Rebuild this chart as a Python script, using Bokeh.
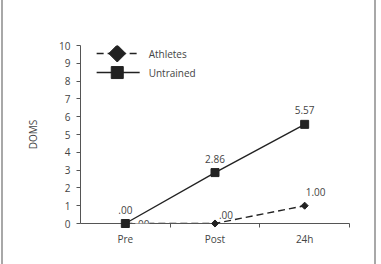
from bokeh.plotting import figure
from bokeh.models import Range1d, FixedTicker, ColumnDataSource, LabelSet
from bokeh.core.properties import value
from bokeh.embed import file_html
from bokeh.resources import INLINE

# ---- data ----
categories = ["Pre", "Post", "24h"]
athletes = [0.00, 0.00, 1.00]
untrained = [0.00, 2.86, 5.57]
y_ticks = list(range(0, 11))
series_names = ["Athletes", "Untrained"]

FONT = "Open Sans"
TXT = "#444444"
LINE = "#222222"

def fmt(v):
    s = f"{v:.2f}"
    return s[1:] if s.startswith("0") else s

xs = [i + 0.5 for i in range(len(categories))]

p = figure(width=375, height=264, output_backend="svg", toolbar_location=None,
           x_range=Range1d(0, len(categories)), y_range=Range1d(0, 10),
           min_border_left=77, min_border_right=29, min_border_top=45, min_border_bottom=41)
p.styles = {"margin-left": "1px",
            "border-left": "2px solid #a8a8a8",
            "border-right": "2px solid #a8a8a8"}
p.outline_line_color = None
p.xgrid.visible = False
p.ygrid.visible = False
p.background_fill_color = "white"
p.border_fill_color = "white"

# x axis
xa = p.xaxis[0]
xa.ticker = FixedTicker(ticks=xs, minor_ticks=[i + 1 for i in range(len(categories))])
xa.major_label_overrides = {x: c for x, c in zip(xs, categories)}
xa.major_tick_out = 0
xa.major_tick_in = 0
xa.minor_tick_out = 4
xa.minor_tick_in = 0
xa.major_label_standoff = 4
# y axis
ya = p.yaxis[0]
ya.ticker = FixedTicker(ticks=y_ticks, minor_ticks=[])
ya.major_tick_out = 4
ya.major_tick_in = 0
ya.minor_tick_out = 0
ya.minor_tick_in = 0
ya.major_label_standoff = 6
ya.axis_label = "DOMS"
ya.axis_label_standoff = 16
for ax in (xa, ya):
    ax.axis_line_color = "#555555"
    ax.major_tick_line_color = "#555555"
    ax.minor_tick_line_color = "#555555"
    ax.major_label_text_font = FONT
    ax.major_label_text_font_size = "10px"
    ax.major_label_text_color = TXT
    ax.axis_label_text_font = FONT
    ax.axis_label_text_font_size = "10px"
    ax.axis_label_text_font_style = "normal"
    ax.axis_label_text_color = TXT

# series
src_a = ColumnDataSource(dict(x=xs, y=athletes, lab=[fmt(v) for v in athletes],
                              dx=[17, 11, 11], dy=[0, 9, 14]))
src_u = ColumnDataSource(dict(x=xs, y=untrained, lab=[fmt(v) for v in untrained]))

p.line("x", "y", source=src_a, line_color=LINE, line_width=1.4, line_dash="7 4")
r = p.scatter("x", "y", source=src_a, marker="square", angle=0.7854, size=5,
              fill_color=LINE, line_color=LINE)
r.level = "overlay"
r = p.line("x", "y", source=src_u, line_color=LINE, line_width=1.4)
r.level = "overlay"
r = p.scatter("x", "y", source=src_u, marker="square", size=8,
              fill_color=LINE, line_color=LINE)
r.level = "overlay"

p.add_layout(LabelSet(x="x", y="y", text="lab", source=src_a, x_offset="dx", y_offset="dy",
                      text_align="center", text_baseline="middle",
                      text_font=value(FONT), text_font_size=value("10px"),
                      text_color=value(TXT), background_fill_color=value("white")))
r = p.text("x", "y", text="lab", source=src_u, y_offset=-14,
           text_align="center", text_baseline="middle",
           text_font=value(FONT), text_font_size="10px", text_color=TXT)
r.level = "overlay"

# manual legend (layout positions)
leg_y = [9.55, 8.48]
leg_x0, leg_xm, leg_x1, leg_xt = 0.18, 0.41, 0.66, 0.76
p.line([leg_x0, leg_x1], [leg_y[0]] * 2, line_color=LINE, line_width=1.4, line_dash="7 4")
p.scatter([leg_xm], [leg_y[0]], marker="square", angle=0.7854, size=12,
          fill_color=LINE, line_color=LINE)
p.line([leg_x0, leg_x1], [leg_y[1]] * 2, line_color=LINE, line_width=1.4)
p.scatter([leg_xm], [leg_y[1]], marker="square", size=12, fill_color=LINE, line_color=LINE)
p.text([leg_xt, leg_xt], leg_y, text=series_names, text_align="left", text_baseline="middle",
       text_font=value(FONT), text_font_size="10px", text_color=TXT)

open("out.html", "w").write(file_html(p, INLINE))
